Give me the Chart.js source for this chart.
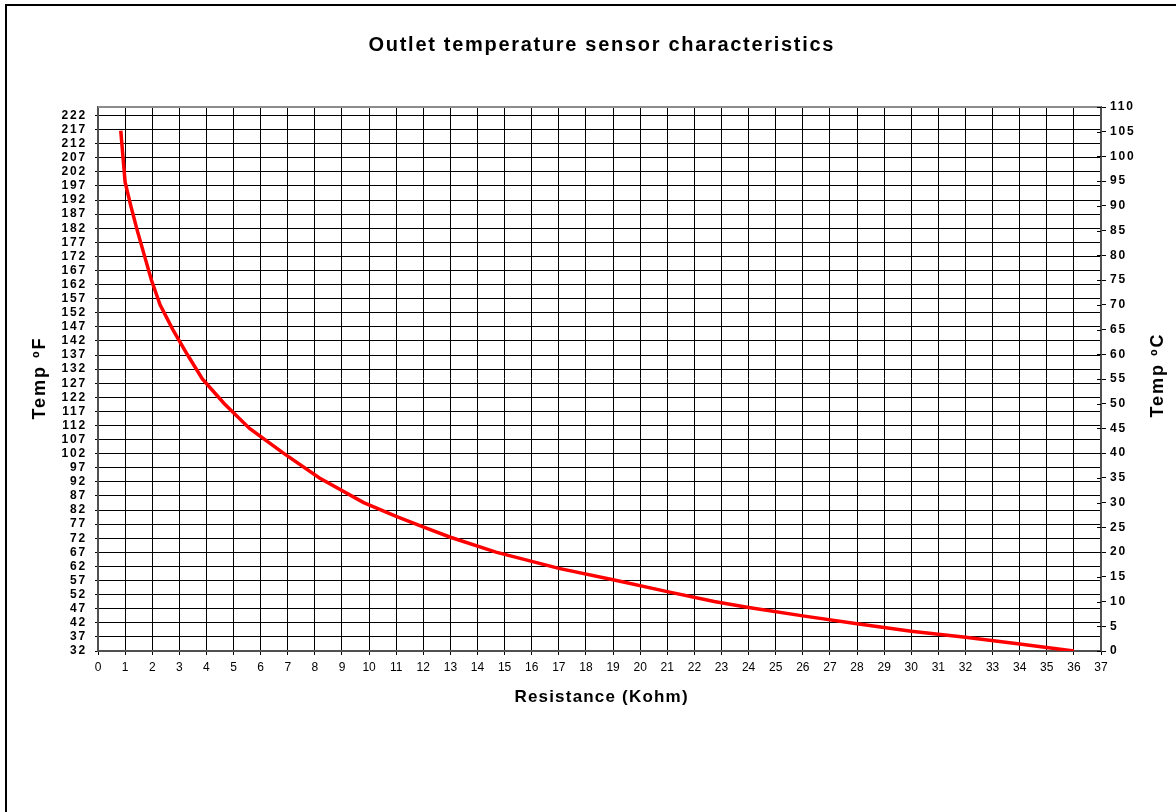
<!DOCTYPE html>
<html>
<head>
<meta charset="utf-8">
<title>Outlet temperature sensor characteristics</title>
<script src="https://cdn.jsdelivr.net/npm/chart.js@4.4.1/dist/chart.umd.min.js"></script>
<style>
  html, body { margin: 0; padding: 0; background: #ffffff; }
  #wrap { width: 1176px; height: 812px; position: relative; }
  canvas { display: block; }
</style>
</head>
<body>
<div id="wrap"><canvas id="sensorChart" width="1176" height="812"></canvas></div>
<script>
// Sensor curve: resistance (kOhm) against outlet temperature (°C)
const resistanceKohm = [0.84, 0.92, 1.00, 1.21, 1.45, 1.71, 1.97, 2.29, 2.76, 3.29, 3.85, 4.66, 5.59, 6.84, 8.17, 9.80,
                        11.0, 12.04, 13.0, 14.68, 17.0, 19.0, 21.0, 22.73, 24.0, 26.0, 28.0, 30.0, 32.0, 34.0, 36.0];
const temperatureC   = [105.2, 100, 94.8, 90, 85, 80, 75, 70, 65, 60, 55, 50, 45, 40, 35, 30,
                        27.2, 25, 23.0, 20, 16.7, 14.4, 12.0, 10, 8.8, 7.1, 5.5, 4.0, 2.8, 1.4, 0];

// Axis tick labels
const resistanceTicks = [0, 1, 2, 3, 4, 5, 6, 7, 8, 9, 10, 11, 12, 13, 14, 15, 16, 17, 18, 19, 20,
                         21, 22, 23, 24, 25, 26, 27, 28, 29, 30, 31, 32, 33, 34, 35, 36, 37];
const fahrenheitTicks = [32, 37, 42, 47, 52, 57, 62, 67, 72, 77, 82, 87, 92, 97, 102, 107, 112, 117, 122,
                         127, 132, 137, 142, 147, 152, 157, 162, 167, 172, 177, 182, 187, 192, 197, 202,
                         207, 212, 217, 222];
const celsiusTicks = [0, 5, 10, 15, 20, 25, 30, 35, 40, 45, 50, 55, 60, 65, 70, 75, 80, 85, 90, 95, 100, 105, 110];

// Texts
const chartTitle = 'Outlet temperature sensor characteristics';
const xAxisTitle = 'Resistance (Kohm)';
const leftAxisTitle = 'Temp ºF';
const rightAxisTitle = 'Temp ºC';

const FONT = '"Liberation Sans", Arial, Helvetica, sans-serif';

// Linear scale whose tick labels are drawn with a little tracking
class SpacedLinearScale extends Chart.LinearScale {
  drawLabels(chartArea) {
    const ctx = this.ctx;
    const prev = ctx.letterSpacing;
    ctx.letterSpacing = '1.8px';
    super.drawLabels(chartArea);
    ctx.letterSpacing = prev;
  }
}
SpacedLinearScale.id = 'spacedLinear';
SpacedLinearScale.defaults = Chart.LinearScale.defaults;
Chart.register(SpacedLinearScale);

function drawText(ctx, text, x, y, font, spacing, rotation) {
  ctx.save();
  ctx.translate(x, y);
  if (rotation) ctx.rotate(rotation);
  ctx.font = font;
  ctx.letterSpacing = spacing + 'px';
  ctx.fillStyle = '#000000';
  ctx.textAlign = 'center';
  ctx.textBaseline = 'middle';
  ctx.fillText(text, spacing / 2, 0);
  ctx.restore();
}

const framePlugin = {
  id: 'frame',
  beforeDraw(chart) {
    const ctx = chart.ctx;
    ctx.save();
    ctx.fillStyle = '#ffffff';
    ctx.fillRect(0, 0, chart.width, chart.height);
    ctx.strokeStyle = '#000000';
    ctx.lineWidth = 2;
    ctx.beginPath();
    ctx.moveTo(6, chart.height + 2);
    ctx.lineTo(6, 5);
    ctx.lineTo(chart.width + 2, 5);
    ctx.stroke();
    ctx.restore();
  },
  beforeDatasetsDraw(chart) {
    const ctx = chart.ctx;
    const area = chart.chartArea;
    const yC = chart.scales.yC;
    ctx.save();
    // top edge of the plot area
    ctx.strokeStyle = '#8c8c8c';
    ctx.lineWidth = 2;
    ctx.beginPath();
    ctx.moveTo(area.left, area.top);
    ctx.lineTo(area.right, area.top);
    ctx.stroke();
    // inner half of the secondary axis tick marks
    ctx.strokeStyle = '#000000';
    ctx.lineWidth = 1;
    ctx.beginPath();
    celsiusTicks.forEach(v => {
      const y = Math.round(yC.getPixelForValue(v)) + 0.5;
      ctx.moveTo(area.right - 4, y);
      ctx.lineTo(area.right, y);
    });
    ctx.stroke();
    ctx.restore();
  },
  afterDraw(chart) {
    const ctx = chart.ctx;
    const area = chart.chartArea;
    const midY = (area.top + area.bottom) / 2;
    drawText(ctx, chartTitle, 601, 45, 'bold 20px ' + FONT, 1.7, 0);
    drawText(ctx, xAxisTitle, 601, 697, 'bold 17px ' + FONT, 1.2, 0);
    drawText(ctx, leftAxisTitle, 40, midY, 'bold 18px ' + FONT, 2, -Math.PI / 2);
    drawText(ctx, rightAxisTitle, 1158, midY - 3, 'bold 18px ' + FONT, 2, -Math.PI / 2);
  }
};

const points = resistanceKohm.map((r, i) => ({ x: r, y: temperatureC[i] }));

new Chart(document.getElementById('sensorChart'), {
  type: 'line',
  data: {
    datasets: [{
      label: 'Sensor',
      data: points,
      yAxisID: 'yC',
      xAxisID: 'x',
      borderColor: '#ff0000',
      borderWidth: 3.5,
      pointRadius: 0,
      tension: 0,
      fill: false
    }]
  },
  options: {
    responsive: false,
    animation: false,
    devicePixelRatio: 1,
    layout: { padding: { top: 107, left: 0, right: 0, bottom: 0 } },
    plugins: {
      legend: { display: false },
      title: { display: false },
      tooltip: { enabled: false }
    },
    scales: {
      x: {
        type: 'linear',
        position: 'bottom',
        min: 0,
        max: 37,
        afterBuildTicks: s => { s.ticks = resistanceTicks.map(v => ({ value: v })); },
        afterFit: s => { s.height = 161; },
        ticks: {
          autoSkip: false,
          maxRotation: 0,
          minRotation: 0,
          padding: 5,
          color: '#000000',
          font: { family: FONT, size: 12 }
        },
        grid: { color: '#000000', lineWidth: 1, tickLength: 4, drawTicks: true },
        border: { color: '#505050', width: 2 }
      },
      yF: {
        type: 'spacedLinear',
        position: 'left',
        min: 32,
        max: 225,
        afterBuildTicks: s => { s.ticks = fahrenheitTicks.map(v => ({ value: v })); },
        afterFit: s => { s.width = 98; },
        ticks: {
          autoSkip: false,
          padding: 8,
          color: '#000000',
          font: { family: FONT, size: 12, weight: 'bold' }
        },
        grid: { color: '#000000', lineWidth: 1, tickLength: 3, drawTicks: true },
        border: { color: '#505050', width: 2 }
      },
      yC: {
        type: 'spacedLinear',
        position: 'right',
        min: 0,
        max: 110,
        afterBuildTicks: s => { s.ticks = celsiusTicks.map(v => ({ value: v })); },
        afterFit: s => { s.width = 75; },
        ticks: {
          autoSkip: false,
          padding: 4,
          color: '#000000',
          font: { family: FONT, size: 12, weight: 'bold' }
        },
        grid: { drawOnChartArea: false, color: '#000000', lineWidth: 1, tickLength: 5, drawTicks: true },
        border: { color: '#505050', width: 2 }
      }
    }
  },
  plugins: [framePlugin]
});
</script>
</body>
</html>
